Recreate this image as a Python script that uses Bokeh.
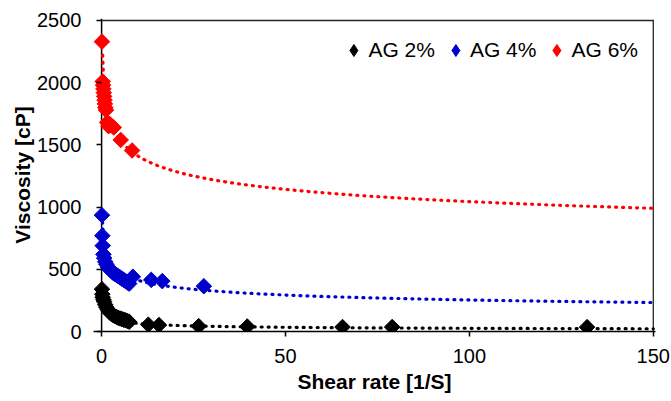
import numpy as np
from bokeh.plotting import figure
from bokeh.models import Legend, LegendItem, Range1d, SingleIntervalTicker, Span
from bokeh.embed import file_html
from bokeh.resources import INLINE

# ---- data (shear rate [1/S], viscosity [cP]) ----
ag2_rate = [0.1, 0.2, 0.3, 0.5, 0.7, 1.0, 1.3, 1.7, 2.0, 2.5, 3.0, 3.5, 4.0, 4.5,
            5.0, 5.5, 6.0, 6.5, 7.0, 7.5, 12.7, 15.6, 26.4, 39.6, 65.5, 79.0, 132.0]
ag2_visc = [340, 300, 275, 255, 240, 215, 195, 175, 160, 145, 135, 125, 118, 110,
            105, 100, 95, 90, 85, 78, 55, 52, 43, 40, 36, 36, 35]

ag4_rate = [0.1, 0.2, 0.3, 0.5, 0.7, 1.0, 1.3, 1.7, 2.0, 2.5, 3.0, 3.5, 4.0, 4.5,
            5.0, 5.5, 6.0, 6.5, 7.0, 7.5, 8.5, 13.5, 16.5, 27.8]
ag4_visc = [935, 770, 690, 620, 590, 560, 540, 520, 505, 490, 475, 465, 455, 445,
            435, 425, 415, 405, 395, 385, 440, 415, 405, 364]

ag6_rate = [0.1, 0.3, 0.4, 0.5, 0.6, 0.7, 0.8, 0.9, 1.0, 1.2, 1.5, 1.9, 2.5, 3.3,
            5.2, 8.3]
ag6_visc = [2330, 2010, 1980, 1950, 1920, 1890, 1860, 1830, 1800, 1780, 1680, 1650,
            1660, 1640, 1540, 1455]

labels = ["AG 2%", "AG 4%", "AG 6%"]
colors = ["#000000", "#0000CC", "#FF0000"]
rates = [ag2_rate, ag4_rate, ag6_rate]
viscs = [ag2_visc, ag4_visc, ag6_visc]

# power-law trendlines shown on the chart: visc = k * rate ** e
trend_k = [163, 667, 1900]
trend_exp = [-0.40, -0.21, -0.13]
trend_start = [0.16, 0.2, 0.3]

x_min, x_max = 0, 150
y_min, y_max = 0, 2500
x_tick_step = 50
y_tick_step = 500

FONT = "Liberation Sans"
FRAME = "#262626"

# ranges padded by ~2 px at the top/right so the border lines are not clipped
p = figure(width=671, height=401, output_backend="svg", toolbar_location=None,
           x_range=Range1d(-2.2, x_max + 0.6), y_range=Range1d(y_min, y_max + 16),
           min_border_left=93, min_border_right=16, min_border_top=18,
           min_border_bottom=70)

xax = p.below[0]
yax = p.left[0]

p.grid.visible = False
p.background_fill_color = "white"
p.border_fill_color = "white"
p.outline_line_color = None

# y axis line at x = 0 (beneath the markers)
p.add_layout(Span(location=x_min, dimension="height", line_color="#000000",
                  line_width=1.5, level="underlay"))

# plot-area border along the top and right edges (axis limits)
p.line([x_min, x_max, x_max], [y_max, y_max, y_min], line_color=FRAME,
       line_width=1.3, line_join="miter")

for k, e, s, c in zip(trend_k, trend_exp, trend_start, colors):
    tx = np.geomspace(s, x_max, 300)
    ty = k * tx ** e
    p.line(tx, ty, line_color=c, line_width=3.2, line_dash="1 6", line_cap="round")

for x, y, c in zip(rates, viscs, colors):
    p.scatter(x, y, marker="square", size=11, angle=np.pi / 4,
              fill_color=c, line_color=c, line_width=1)

# legend entries (diamond symbols, no visible data)
legend_renderers = []
for c in colors:
    r = p.scatter([np.nan], [np.nan], marker="diamond", fill_color=c, line_color=c, line_width=1)
    legend_renderers.append(r)

legend = Legend(items=[LegendItem(label=l, renderers=[r]) for l, r in zip(labels, legend_renderers)],
                orientation="horizontal", location="top_right",
                border_line_color=None, background_fill_alpha=0,
                label_text_font=FONT, label_text_font_size="21px",
                label_text_color="#000000",
                glyph_width=30, glyph_height=30, label_standoff=0,
                spacing=5, padding=9, margin=17)
p.add_layout(legend)

for ax in (xax, yax):
    ax.axis_line_color = "#000000"
    ax.axis_line_width = 1.5
    ax.major_tick_line_color = "#000000"
    ax.major_tick_line_width = 1.5
    ax.minor_tick_line_color = None
    ax.major_label_text_font = FONT
    ax.major_label_text_font_size = "20px"
    ax.major_label_text_color = "#000000"
    ax.axis_label_text_font = FONT
    ax.axis_label_text_font_size = "21px"
    ax.axis_label_text_font_style = "bold"
    ax.axis_label_text_color = "#000000"

xax.major_tick_in = 0
xax.major_tick_out = 5
# y axis drawn at the frame edge; its ticks are shifted to end at x = 0
yax.axis_line_color = None
yax.major_tick_in = 8
yax.major_tick_out = -3
yax.minor_tick_in = 0
yax.minor_tick_out = -3

xax.ticker = SingleIntervalTicker(interval=x_tick_step)
yax.ticker = SingleIntervalTicker(interval=y_tick_step)
xax.axis_label = "Shear rate [1/S]"
yax.axis_label = "Viscosity [cP]"
xax.major_label_standoff = 12
yax.major_label_standoff = 15
xax.axis_label_standoff = 4
yax.axis_label_standoff = 0

open("out.html", "w").write(file_html(p, INLINE))
